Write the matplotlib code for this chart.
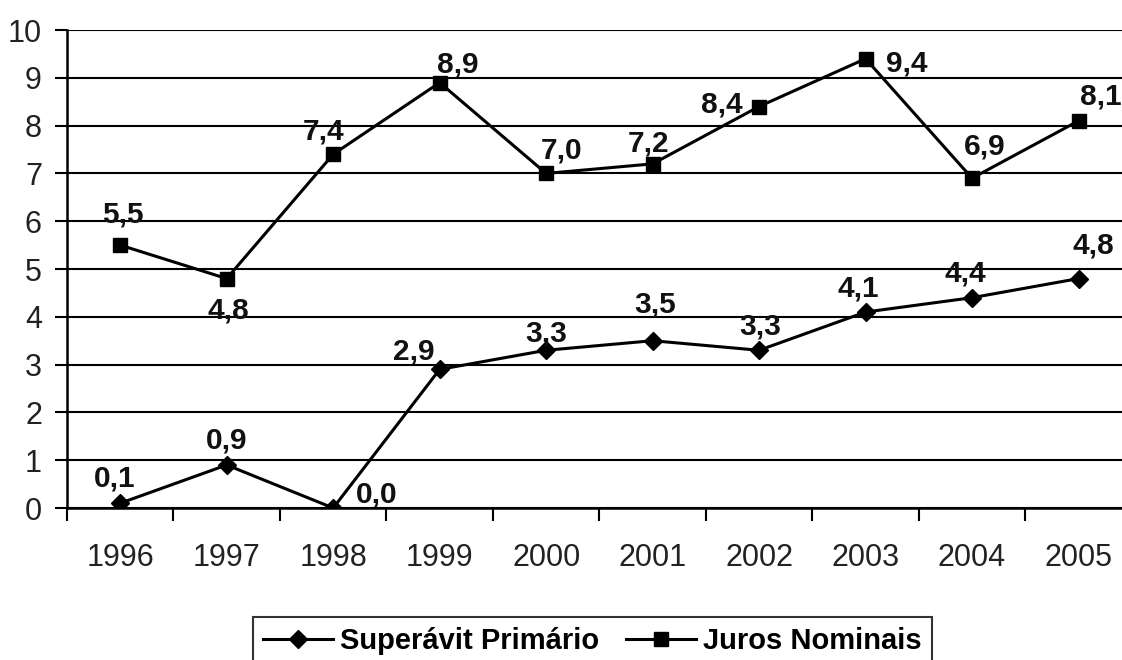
import matplotlib.pyplot as plt
from matplotlib.ticker import FixedLocator

plt.rcParams['font.family'] = ['Liberation Sans', 'DejaVu Sans']

years = ['1996', '1997', '1998', '1999', '2000', '2001', '2002', '2003', '2004', '2005']
superavit = [0.1, 0.9, 0.0, 2.9, 3.3, 3.5, 3.3, 4.1, 4.4, 4.8]
juros = [5.5, 4.8, 7.4, 8.9, 7.0, 7.2, 8.4, 9.4, 6.9, 8.1]

# baseline offsets of the value labels, in points (dx, dy)
sup_off = [(-4, 12), (0, 12), (31, 4), (-19, 7), (0, 6), (2, 20), (1, 11), (-5, 11), (-5, 12), (11, 18)]
jur_off = [(2, 16), (1, -29), (-7, 11), (13, 7), (11, 11), (-3, 9), (-27, -4), (30, -9), (9, 17), (16, 12)]

fig = plt.figure(figsize=(11.22, 6.6), dpi=100)
ax = fig.add_axes([0.0597, 0.2303, 0.949, 0.7242])

x = list(range(len(years)))
ax.plot(x, superavit, color='black', lw=2.2, marker='D', ms=9, label='Superávit Primário')
ax.plot(x, juros, color='black', lw=2.2, marker='s', ms=10, label='Juros Nominais')


def value_labels(vals, offsets):
    for xi, v, off in zip(x, vals, offsets):
        ax.annotate('{:.1f}'.format(v).replace('.', ','), (xi, v), xytext=off,
                    textcoords='offset points', ha='center', va='baseline',
                    fontsize=21.5, fontweight='bold', color='#111')


value_labels(superavit, sup_off)
value_labels(juros, jur_off)

ax.set_xlim(-0.5, 9.5)
ax.set_ylim(0, 10)
ax.set_yticks(range(0, 11))
ax.yaxis.grid(True, color='black', lw=1.5)
ax.set_axisbelow(True)

ax.set_xticks(x)
ax.set_xticklabels(years)
ax.xaxis.set_minor_locator(FixedLocator([i - 0.5 for i in range(len(years) + 1)]))
ax.tick_params(axis='x', which='major', length=0, pad=25, labelsize=22, labelcolor='#222')
ax.tick_params(axis='x', which='minor', length=9, width=1.5, color='black')
ax.tick_params(axis='y', length=9, width=1.5, pad=9, labelsize=22, labelcolor='#222')

for side in ['top', 'right']:
    ax.spines[side].set_visible(False)
for side in ['left', 'bottom']:
    ax.spines[side].set_linewidth(1.8)

leg = fig.legend(loc='upper left', bbox_to_anchor=(253 / 1122, 1 - 617 / 660), ncol=2,
                 prop={'size': 21, 'weight': 'bold'}, frameon=True, fancybox=False,
                 handlelength=2.4, handletextpad=0.25, columnspacing=0.9,
                 borderpad=0.35, borderaxespad=0)
leg.get_frame().set_edgecolor('black')
leg.get_frame().set_linewidth(1.5)

fig.savefig('out.png', dpi=100, facecolor='white')
